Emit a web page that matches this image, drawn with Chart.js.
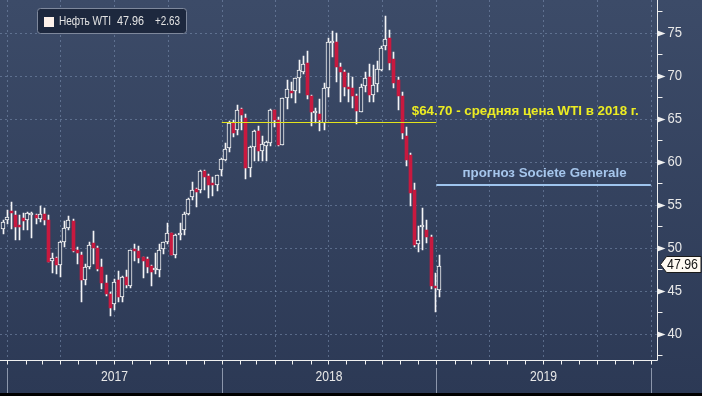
<!DOCTYPE html>
<html><head><meta charset="utf-8">
<script src="https://cdn.jsdelivr.net/npm/chart.js@4.4.0/dist/chart.umd.min.js"></script>
<style>html,body{margin:0;padding:0;background:#2d3a57;overflow:hidden}canvas{display:block}</style>
</head><body>
<canvas id="c" width="702" height="396"></canvas>
<script>
// ---- data (weekly WTI candles, week ending date) ----
const weeks = [
'2016-12-23','2016-12-30',
'2017-01-06','2017-01-13','2017-01-20','2017-01-27','2017-02-03','2017-02-10','2017-02-17','2017-02-24','2017-03-03','2017-03-10','2017-03-17','2017-03-24','2017-03-31',
'2017-04-07','2017-04-14','2017-04-21','2017-04-28','2017-05-05','2017-05-12','2017-05-19','2017-05-26','2017-06-02','2017-06-09','2017-06-16','2017-06-23','2017-06-30',
'2017-07-07','2017-07-14','2017-07-21','2017-07-28','2017-08-04','2017-08-11','2017-08-18','2017-08-25','2017-09-01','2017-09-08','2017-09-15','2017-09-22','2017-09-29',
'2017-10-06','2017-10-13','2017-10-20','2017-10-27','2017-11-03','2017-11-10','2017-11-17','2017-11-24','2017-12-01','2017-12-08','2017-12-15','2017-12-22','2017-12-29',
'2018-01-05','2018-01-12','2018-01-19','2018-01-26','2018-02-02','2018-02-09','2018-02-16','2018-02-23','2018-03-02','2018-03-09','2018-03-16','2018-03-23','2018-03-30',
'2018-04-06','2018-04-13','2018-04-20','2018-04-27','2018-05-04','2018-05-11','2018-05-18','2018-05-25','2018-06-01','2018-06-08','2018-06-15','2018-06-22','2018-06-29',
'2018-07-06','2018-07-13','2018-07-20','2018-07-27','2018-08-03','2018-08-10','2018-08-17','2018-08-24','2018-08-31','2018-09-07','2018-09-14','2018-09-21','2018-09-28',
'2018-10-05','2018-10-12','2018-10-19','2018-10-26','2018-11-02','2018-11-09','2018-11-16','2018-11-23','2018-11-30','2018-12-07','2018-12-14','2018-12-21','2018-12-28',
'2019-01-04'
];
const open = [
52.17,53.25,
54.34,53.83,52.67,53.45,53.25,53.83,53.83,53.40,54.00,53.25,48.50,48.80,48.00,50.70,52.30,53.10,49.80,49.20,46.30,47.80,50.60,49.96,47.80,45.90,44.70,43.50,
46.30,44.30,46.67,45.60,49.90,49.70,48.90,48.70,47.90,47.40,47.40,49.90,50.66,51.70,49.20,51.50,52.10,54.00,55.97,56.90,56.70,59.00,58.40,57.40,57.30,59.10,
60.20,61.60,64.50,63.70,66.20,65.10,59.26,61.69,63.55,61.29,61.90,62.20,66.00,64.90,62.00,67.40,68.20,68.20,69.80,70.50,71.50,67.70,65.70,65.60,64.50,68.60,
73.80,73.90,71.09,70.47,68.67,68.55,67.68,65.85,68.80,69.87,67.80,69.02,70.68,73.47,74.38,71.94,69.50,67.67,63.00,60.80,56.74,50.49,52.40,52.10,51.30,45.60,
45.10
];
const high = [
53.26,54.37,
55.30,54.33,53.80,54.08,54.18,54.14,54.00,54.94,54.67,53.78,49.44,48.98,50.85,53.09,53.76,53.37,50.13,49.56,48.19,50.66,52.00,50.20,48.75,46.85,44.91,46.38,
47.32,46.76,47.42,49.81,50.43,50.22,48.95,48.90,48.07,49.42,50.47,50.71,52.86,51.77,51.60,52.86,54.20,55.84,57.69,57.00,59.10,59.05,58.56,58.26,58.53,60.51,
62.21,64.77,64.89,66.66,66.26,65.58,61.89,63.73,64.24,63.03,62.42,66.19,66.10,65.20,67.45,69.56,69.35,69.80,71.89,72.30,72.90,67.77,66.27,67.32,69.14,74.46,
75.27,75.00,71.48,70.73,70.35,69.84,67.91,69.05,70.48,71.40,71.25,71.79,73.47,77.00,75.35,72.80,69.83,68.14,64.05,61.00,57.50,52.55,54.60,53.30,51.50,47.05,
49.20
];
const low = [
51.64,52.82,
52.20,50.90,50.91,52.08,52.14,51.22,52.82,53.04,52.72,48.35,47.09,47.01,46.64,50.08,52.11,49.56,48.18,43.76,45.65,47.60,48.18,47.33,45.20,44.37,42.05,42.84,
43.75,43.73,45.40,45.40,48.47,48.26,46.46,47.14,45.58,47.03,46.67,49.33,50.52,49.19,48.86,50.95,51.55,53.85,55.61,54.79,56.36,56.75,55.82,56.10,56.65,58.34,
60.10,61.20,62.91,63.19,63.67,58.07,58.25,60.14,60.12,60.16,60.09,61.86,64.04,61.84,61.96,66.20,67.43,66.91,68.08,70.27,67.38,64.22,64.50,63.59,63.68,67.55,
72.25,69.25,67.03,67.62,66.92,66.32,64.43,65.78,68.13,67.03,66.96,68.14,70.53,73.00,70.70,68.60,66.00,62.63,59.55,54.90,50.15,49.57,49.77,50.60,45.24,42.60,
44.30
];
const close = [
52.98,53.64,
54.03,52.40,52.40,53.17,54.10,53.95,53.45,54.00,53.25,48.40,48.80,48.00,50.70,52.30,53.20,49.60,49.40,46.30,47.80,50.30,49.96,47.60,45.90,44.70,42.99,46.10,
44.30,46.67,45.70,49.77,49.60,48.80,48.50,47.80,47.25,47.60,49.80,50.66,51.70,49.20,51.50,51.70,54.00,55.66,56.70,56.55,58.95,58.30,57.30,57.30,58.50,60.40,
61.50,64.50,63.40,66.10,65.50,59.26,61.80,63.55,61.25,62.04,62.34,66.00,64.90,62.00,67.40,68.50,68.00,69.80,70.70,71.40,67.80,65.80,65.80,64.90,68.60,74.00,
74.10,71.00,70.46,68.69,68.49,67.63,65.91,68.72,69.80,67.75,68.99,70.78,73.25,74.34,71.47,69.22,67.70,63.33,60.23,56.43,50.35,50.93,52.61,51.30,45.59,45.33,
47.96
];
const yTicks = [40,45,50,55,60,65,70,75];
const years = ['2017','2018','2019'];
const seriesName = 'Нефть WTI';
const lastPrice = 47.96;
const lastChange = '+2.63';
const avgPrice2018 = 64.70;
const avgLabel = '$64.70 - средняя цена WTI в 2018 г.';
const forecastPrice = 57.3;
const forecastLabel = 'прогноз Societe Generale';

// ---- helpers ----
const DAY0 = Date.UTC(2017,0,1);
function dayOf(s){ const [y,m,d] = s.split('-').map(Number); return (Date.UTC(y,m-1,d)-DAY0)/86400000; }
const xd = weeks.map(s => dayOf(s) + 2);
const RED = '#c8193f';
let _grad = null;
function bgGrad(chart){
  if(!_grad){ _grad = chart.ctx.createLinearGradient(0,0,0,396); _grad.addColorStop(0,'#3c4b68'); _grad.addColorStop(1,'#2c3955'); }
  return _grad;
}
const upIdx = [], dnIdx = [];
close.forEach((c,i)=> (c>=open[i]?upIdx:dnIdx).push(i));

const FONT = "'Liberation Sans Narrow','Liberation Sans',Arial,sans-serif";

// snap candle elements to whole pixels for crisp rendering
const snapPlugin = {
  id:'snap',
  afterDatasetsUpdate(chart){
    chart.data.datasets.forEach((ds,di)=>{
      const meta = chart.getDatasetMeta(di);
      meta.data.forEach(el=>{
        const n = Math.floor(el.x);
        el.x = ds.label==='up' ? n : n+0.5;
        el.y = Math.round(el.y); el.base = Math.round(el.base);
      });
    });
  }
};

const bgPlugin = {
  id:'bgGrid',
  beforeDraw(chart){
    const {ctx, chartArea:a} = chart; const X = chart.scales.x, Y = chart.scales.y;
    ctx.save();
    ctx.fillStyle = bgGrad(chart); ctx.fillRect(0,0,702,396);
    ctx.fillStyle = '#000'; ctx.fillRect(0,393,702,3);
    ctx.strokeStyle = 'rgba(125,145,178,0.55)'; ctx.lineWidth = 1; ctx.setLineDash([2,3]);
    yTicks.forEach(v=>{ const py = Math.round(Y.getPixelForValue(v))+0.5; ctx.beginPath(); ctx.moveTo(a.left,py); ctx.lineTo(a.right,py); ctx.stroke(); });
    for(let yr=2017; yr<=2020; yr++) for(let m=0;m<12;m+=3){
      const d = (Date.UTC(yr,m,1)-DAY0)/86400000; const px = Math.round(X.getPixelForValue(d))+0.5;
      if(px>a.right) continue;
      ctx.beginPath(); ctx.moveTo(px,a.top); ctx.lineTo(px,a.bottom); ctx.stroke();
    }
    ctx.restore();
  }
};

const annPlugin = {
  id:'ann',
  afterDatasetsDraw(chart){
    const {ctx} = chart; const X = chart.scales.x, Y = chart.scales.y;
    ctx.save();
    const d18 = dayOf('2018-01-01'), d19 = dayOf('2019-01-01'), d20 = dayOf('2020-01-01');
    const ya = Math.round(Y.getPixelForValue(avgPrice2018))+0.5;
    ctx.strokeStyle = '#e2e21c'; ctx.lineWidth = 1;
    ctx.beginPath(); ctx.moveTo(X.getPixelForValue(d18),ya); ctx.lineTo(X.getPixelForValue(d19),ya); ctx.stroke();
    const yf = Math.round(Y.getPixelForValue(forecastPrice));
    ctx.strokeStyle = '#9fc5ee'; ctx.lineWidth = 2;
    ctx.beginPath(); ctx.moveTo(X.getPixelForValue(d19),yf); ctx.lineTo(X.getPixelForValue(d20),yf); ctx.stroke();
    ctx.font = "bold 13.3px 'Liberation Sans',Arial,sans-serif"; ctx.textBaseline='middle';
    ctx.fillStyle = '#ecec22'; ctx.textAlign='left';
    ctx.fillText(avgLabel, X.getPixelForValue(d19)-24.5, ya-11);
    ctx.fillStyle = '#a6c6ec'; ctx.textAlign='center';
    ctx.fillText(forecastLabel, (X.getPixelForValue(d19)+X.getPixelForValue(d20))/2+1, yf-12);
    ctx.restore();
  },
  afterDraw(chart){
    const {ctx, chartArea:a} = chart; const X = chart.scales.x, Y = chart.scales.y;
    ctx.save();
    const ax = Math.round(a.right)-0.5, ay = Math.round(a.bottom)-0.5;
    ctx.strokeStyle = '#f0f0f0'; ctx.lineWidth = 1;
    ctx.beginPath(); ctx.moveTo(0,ay); ctx.lineTo(ax,ay); ctx.moveTo(ax,0); ctx.lineTo(ax,ay); ctx.stroke();
    // monthly ticks
    for(let yr=2017; yr<=2020; yr++) for(let m=0;m<12;m++){
      const d = (Date.UTC(yr,m,1)-DAY0)/86400000; const px = Math.round(X.getPixelForValue(d))+0.5;
      if(px>ax) continue;
      ctx.beginPath(); ctx.moveTo(px,ay); ctx.lineTo(px,ay+4); ctx.stroke();
    }
    // year separators + labels
    ctx.strokeStyle = '#8c96ab';
    for(let yr=2017; yr<=2020; yr++){
      const px = Math.round(X.getPixelForValue((Date.UTC(yr,0,1)-DAY0)/86400000))+0.5;
      ctx.beginPath(); ctx.moveTo(px,368); ctx.lineTo(px,393); ctx.stroke();
    }
    ctx.fillStyle = '#e8e8e8'; ctx.font = "15px "+FONT; ctx.textAlign='center'; ctx.textBaseline='middle';
    years.forEach(y=>{
      const s = dayOf(y+'-01-01'), e = dayOf((+y+1)+'-01-01');
      ctx.fillText(y, X.getPixelForValue((s+e)/2), 377, 27);
    });
    // right axis ticks
    ctx.strokeStyle = '#f0f0f0';
    for(let v=37.5; v<79; v+=2.5){
      const py = Math.round(Y.getPixelForValue(v))+0.5;
      if(v%5!==0){ ctx.beginPath(); ctx.moveTo(ax,py); ctx.lineTo(ax+5,py); ctx.stroke(); }
    }
    ctx.fillStyle = '#f0f0f0';
    yTicks.forEach(v=>{
      const py = Math.round(Y.getPixelForValue(v))+0.5;
      ctx.beginPath(); ctx.moveTo(ax,py-3); ctx.lineTo(ax+8,py); ctx.lineTo(ax,py+3); ctx.closePath(); ctx.fill();
    });
    ctx.fillStyle = '#e8e8e8'; ctx.textAlign='left'; ctx.font = "15px "+FONT;
    yTicks.forEach(v=>{ ctx.fillText(String(v), ax+10, Y.getPixelForValue(v), 14.5); });
    // price tag
    const cy = Math.round(Y.getPixelForValue(lastPrice))-1.5;
    ctx.beginPath(); ctx.moveTo(ax+3,cy); ctx.lineTo(ax+9,cy-8); ctx.lineTo(701,cy-8); ctx.lineTo(701,cy+8); ctx.lineTo(ax+9,cy+8); ctx.closePath();
    ctx.fillStyle = '#fffaf2'; ctx.fill(); ctx.strokeStyle = '#1a1a1a'; ctx.stroke();
    ctx.fillStyle = '#111'; ctx.textAlign='left';
    ctx.fillText(lastPrice.toFixed(2), ax+9.5, cy+0.5, 31);
    // legend box
    ctx.beginPath(); ctx.roundRect(37.5,8.5,149,25,3);
    ctx.fillStyle = '#1d283e'; ctx.fill(); ctx.strokeStyle = '#7e889c'; ctx.stroke();
    ctx.fillStyle = '#fdf1ea'; ctx.fillRect(44,17,10,10);
    ctx.fillStyle = '#e4e4e4'; ctx.font = "12.5px "+FONT; ctx.textAlign='left';
    ctx.fillText(seriesName, 59, 22, 52);
    ctx.fillText(lastPrice.toFixed(2), 117, 22, 27);
    ctx.fillText(lastChange, 155, 22, 25);
    ctx.restore();
  }
};

new Chart(document.getElementById('c'), {
  type:'bar',
  data:{ datasets:[
    { label:'up', data: upIdx.map(i=>({x:xd[i], y:[open[i], close[i]]})),
      backgroundColor:(c)=>bgGrad(c.chart), borderColor:'#f4f4f4', borderWidth:1, borderSkipped:false,
      barThickness:4, minBarLength:2, grouped:false, order:0 },
    { label:'down', data: dnIdx.map(i=>({x:xd[i], y:[open[i], close[i]]})),
      backgroundColor:RED, borderColor:RED, borderWidth:0, borderSkipped:false,
      barThickness:3, minBarLength:2, grouped:false, order:1 },
    { label:'wick', data: xd.map((x,i)=>({x, y:[low[i], high[i]]})),
      backgroundColor:'#f4f4f6', borderWidth:0, barThickness:1, grouped:false, order:2 }
  ]},
  options:{
    responsive:false, animation:false, devicePixelRatio:1,
    layout:{ padding:{ left:0, top:0, right:44.3, bottom:35.3 } },
    scales:{
      x:{ type:'linear', min:-12.4, max:1106.7, offset:false, display:false },
      y:{ type:'linear', min:36.895, max:78.837, display:false }
    },
    plugins:{ legend:{display:false}, tooltip:{enabled:false} }
  },
  plugins:[snapPlugin, bgPlugin, annPlugin]
});
</script>
</body></html>
